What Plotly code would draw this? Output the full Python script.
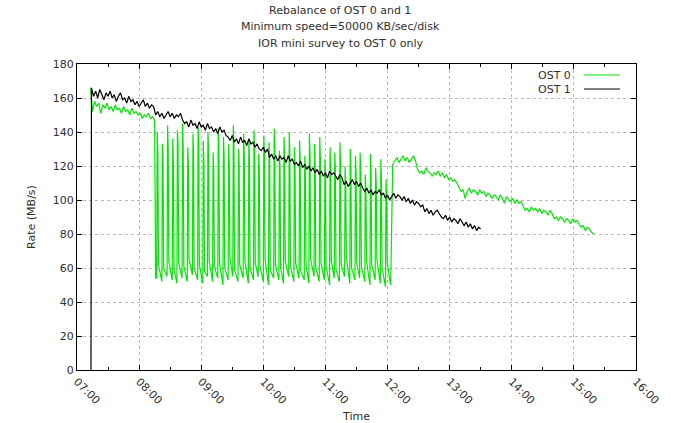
import pandas as pd
import plotly.graph_objects as go

BASE = pd.Timestamp("2000-01-01 07:00")

# ---------------- OST 1 (black) ----------------
ost1_start_min = [13.5]
ost1_start_rate = [0]
ost1_rate = [
    166, 161, 164, 160, 165, 162, 159, 163, 161, 164,
    160, 162, 158, 161, 163, 159, 160, 157, 161, 158,
    159, 156, 158, 155, 157, 159, 155, 157, 154, 156,
    155, 150, 152, 149, 151, 148, 150, 152, 149, 151,
    148, 150, 149, 151, 147, 145, 146, 143, 147, 144,
    145, 142, 146, 143, 144, 141, 145, 142, 143, 140,
    142, 139, 143, 140, 141, 138, 137, 135, 138, 134,
    136, 133, 137, 134, 135, 132, 136, 133, 134, 131,
    133, 130, 129, 131, 128, 130, 125, 127, 124, 126,
    123, 126, 124, 125, 122, 126, 123, 124, 121, 122,
    120, 123, 119, 121, 118, 120, 117, 119, 116, 118,
    115, 117, 114, 116, 113, 117, 115, 116, 114, 112,
    115, 113, 109, 111, 108, 110, 112, 109, 111, 108,
    110, 107, 105, 107, 104, 106, 103, 105, 104, 106,
    103, 104, 101, 103, 100, 102, 104, 101, 103, 102,
    100, 102, 99, 101, 98, 100, 97, 99, 98, 96,
    97, 93, 95, 92, 94, 91, 93, 94, 92, 90,
    89, 91, 88, 90, 87, 89, 88, 86, 89, 87,
    85, 87, 84, 86, 83, 85, 82, 84, 83,
]
ost1_first_min = 14
ost1_step_min = 2

# ---------------- OST 0 (green) ----------------
ost0_pre_rate = [
    166, 152, 158, 155, 157, 151, 156, 154, 157, 153,
    155, 152, 156, 153, 154, 151, 155, 152, 153, 150,
    154, 151, 152, 150, 151, 148, 150, 149, 151, 148,
    149, 147,
]
ost0_pre_first_min = 13
spike_start = [77, 82, 87, 92, 96.5, 101.5, 106.5, 111.5, 116.5, 121.5,
               126, 131, 136, 141, 146, 150.5, 155.5, 160.5, 165.5, 170.5,
               175, 180, 185, 190, 195, 199.5, 204.5, 209.5, 214.5, 219.5,
               224, 229, 234, 239, 244, 248.5, 253.5, 258.5, 263.5, 268.5,
               273, 278, 283, 288, 293, 298]
spike_peak = [140, 133, 144, 136, 141, 145, 131, 139, 143, 135,
              140, 128, 142, 137, 133, 144, 130, 139, 136, 141,
              127, 138, 134, 142, 129, 137, 140, 131, 135, 126,
              139, 133, 137, 124, 131, 128, 134, 120, 130, 126,
              128, 115, 127, 119, 124, 112]
spike_top2 = [128, 125, 131, 122, 133, 130, 120, 127, 134, 121,
              129, 118, 130, 126, 120, 132, 121, 126, 124, 130,
              118, 125, 123, 129, 119, 124, 128, 120, 122, 117,
              127, 121, 125, 114, 119, 118, 122, 111, 118, 115,
              117, 106, 114, 109, 112, 103]
spike_low = [54, 52, 55, 53, 51, 54, 52, 56, 53, 51,
             55, 52, 54, 50, 53, 55, 52, 54, 51, 53,
             55, 52, 50, 54, 53, 51, 55, 52, 54, 53,
             51, 55, 52, 53, 50, 54, 52, 55, 51, 53,
             54, 52, 50, 53, 51, 49]
spike_after = [62, 60, 64, 59, 63, 61, 65, 60, 62, 58,
               64, 61, 63, 60, 66, 59, 62, 64, 60, 63,
               61, 65, 59, 62, 60, 64, 61, 63, 58, 62,
               65, 60, 63, 61, 64, 59, 62, 66, 60, 63,
               61, 64, 62, 65, 60, 63]
ost0_gap_min = [76, 303]
ost0_gap_rate = [54, 50]
ost0_post_rate = [
    121, 123, 125, 122, 124, 126, 123, 125, 122, 124,
    126, 123, 118, 116, 117, 115, 119, 117, 116, 114,
    116, 115, 117, 114, 116, 113, 115, 112, 113, 111,
    112, 110, 107, 105, 106, 101, 105, 107, 104, 106,
    105, 103, 106, 104, 105, 102, 104, 103, 101, 103,
    102, 100, 103, 101, 98, 102, 100, 99, 101, 98,
    100, 98, 99, 96, 94, 95, 93, 96, 94, 95,
    93, 95, 92, 94, 93, 91, 94, 92, 89, 90,
    88, 90, 89, 87, 89, 88, 86, 89, 87, 88,
    86, 84, 85, 82, 84, 83, 81, 80,
]
ost0_post_first_min = 305

x_ticks = ["07:00", "08:00", "09:00", "10:00", "11:00", "12:00",
           "13:00", "14:00", "15:00", "16:00"]
y_ticks = [0, 20, 40, 60, 80, 100, 120, 140, 160, 180]


def t(m):
    return BASE + pd.to_timedelta(m, unit="min")


o1_min = list(ost1_start_min) + [ost1_first_min + ost1_step_min * i for i in range(len(ost1_rate))]
o1_val = list(ost1_start_rate) + list(ost1_rate)

o0_min = [ost0_pre_first_min + 2 * i for i in range(len(ost0_pre_rate))]
o0_val = list(ost0_pre_rate)
o0_min.append(ost0_gap_min[0]); o0_val.append(ost0_gap_rate[0])
for s, p, p2, lo, af in zip(spike_start, spike_peak, spike_top2, spike_low, spike_after):
    o0_min += [s, s + 0.5, s + 1.1, s + 1.7]
    o0_val += [lo, p, p2, af]
o0_min.append(ost0_gap_min[1]); o0_val.append(ost0_gap_rate[1])
o0_min += [ost0_post_first_min + 2 * i for i in range(len(ost0_post_rate))]
o0_val += list(ost0_post_rate)

GREEN = "#00e600"
FONT = "DejaVu Sans"
TXT = "#303030"
L, R, T, B = 77, 636, 64, 370
PW, PH = R - L, B - T

fig = go.Figure()
fig.add_trace(go.Scatter(x=[t(m) for m in o0_min], y=o0_val, mode="lines",
                         line=dict(color=GREEN, width=1.2), name="OST 0"))
fig.add_trace(go.Scatter(x=[t(m) for m in o1_min], y=o1_val, mode="lines",
                         line=dict(color="black", width=1.2), name="OST 1"))

tickvals = [pd.Timestamp("2000-01-01 " + s) for s in x_ticks]

fig.update_layout(
    width=675, height=423,
    margin=dict(l=L, r=675 - R, t=T, b=423 - B),
    paper_bgcolor="white", plot_bgcolor="white",
    showlegend=False,
    font=dict(family=FONT, size=11, color=TXT),
    xaxis=dict(
        range=[tickvals[0], tickvals[-1]], automargin=False,
        tickvals=tickvals, ticktext=x_ticks, tickangle=45,
        showgrid=True, gridcolor="#b8b8b8", griddash="dot", gridwidth=1,
        showline=True, linecolor="black", linewidth=1, mirror="allticks",
        ticks="inside", ticklen=5, tickcolor="black",
        minor=dict(ticks="inside", ticklen=3, dtick=1800000, tickcolor="black", showgrid=False),
        zeroline=False,
        title=dict(text="Time", font=dict(size=11), standoff=8),
    ),
    yaxis=dict(
        range=[0, 180], tickvals=y_ticks, automargin=False,
        showgrid=True, gridcolor="#b8b8b8", griddash="dot", gridwidth=1,
        showline=True, linecolor="black", linewidth=1, mirror="allticks",
        ticks="inside", ticklen=5, tickcolor="black",
        zeroline=False,
        title=dict(text="Rate (MB/s)", font=dict(size=11), standoff=14),
    ),
)

title_lines = ["Rebalance of OST 0 and 1",
               "Minimum speed=50000 KB/sec/disk",
               "IOR mini survey to OST 0 only"]
for i, line in enumerate(title_lines):
    fig.add_annotation(text=line, xref="paper", yref="paper",
                       x=(340 - L) / PW, y=(B - (11 + 16 * i)) / PH,
                       showarrow=False, xanchor="center", yanchor="middle",
                       font=dict(size=11, family=FONT, color=TXT))

for name, color, ypix in [("OST 0", GREEN, 75), ("OST 1", "black", 89)]:
    yp = (B - ypix) / PH
    fig.add_annotation(text=name, xref="paper", yref="paper",
                       x=(573 - L) / PW, y=yp, showarrow=False,
                       xanchor="right", yanchor="middle",
                       font=dict(size=11, family=FONT, color=TXT))
    fig.add_shape(type="line", xref="paper", yref="paper",
                  x0=(584 - L) / PW, x1=(620 - L) / PW, y0=yp, y1=yp,
                  line=dict(color=color, width=1))

fig.write_html(
    "out.html",
    config={"displayModeBar": False},
    post_script="document.body.style.margin='0px';document.body.style.overflow='hidden';",
)
